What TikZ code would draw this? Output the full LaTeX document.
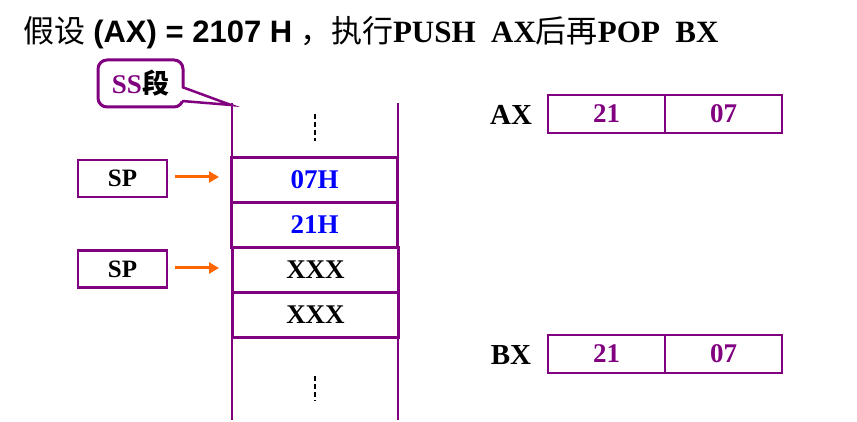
\documentclass[tikz,border=0pt]{standalone}
\usepackage{fontspec}
\setmainfont{Liberation Serif}
\newfontfamily\cjk{Noto Sans CJK SC}
\newfontfamily\ar{Liberation Sans}
\usetikzlibrary{arrows.meta}
\definecolor{pur}{RGB}{128,0,128}
\definecolor{org}{RGB}{255,102,0}
\begin{document}
\begin{tikzpicture}[x=1pt,y=-1pt,
  cell/.style={draw=pur,line width=2.2pt,minimum width=166pt,minimum height=45pt,inner sep=0pt,font=\bfseries\fontsize{27}{27}\selectfont},
  sp/.style={draw=pur,line width=2.2pt,minimum width=89pt,minimum height=37pt,inner sep=0pt,font=\bfseries\fontsize{25}{25}\selectfont},
  reg/.style={draw=pur,line width=2.2pt,minimum width=117pt,minimum height=38pt,inner sep=0pt,text=pur,font=\bfseries\fontsize{27}{27}\selectfont},
  lab/.style={font=\bfseries\fontsize{29}{29}\selectfont},
  arr/.style={org,line width=3pt,-{Triangle[length=10pt,width=11pt]}}]
\useasboundingbox (0,0) rectangle (857,422);
\node[anchor=west,font=\bfseries\fontsize{31}{31}\selectfont] (title) at (20,33)
  {{\cjk\mdseries 假设}\ {\ar (AX) = 2107 H}\ {\cjk\mdseries ，执行}PUSH\ \ AX{\cjk\mdseries 后再}POP\ \ BX};
% stack
\draw[pur,line width=2.2pt] (232,103) -- (232,420);
\draw[pur,line width=2.2pt] (398,103) -- (398,420);
\node[cell,text=blue] (c1) at (314.5,180) {07H};
\node[cell,text=blue] (c2) at (314.5,225) {21H};
\node[cell] (c3) at (315.5,270) {XXX};
\node[cell] (c4) at (315.5,315) {XXX};
\draw[line width=2.5pt,dash pattern=on 5pt off 3pt] (315,114) -- (315,141);
\draw[line width=2.5pt,dash pattern=on 5pt off 3pt] (315,376) -- (315,401);
% callout
\node[draw=pur,line width=3pt,rounded corners=9pt,minimum width=85pt,minimum height=47pt,font=\bfseries\fontsize{27}{27}\selectfont] (ss) at (140.5,83.5) {\textcolor{pur}{SS}{\cjk 段}};
\coordinate (tip) at (231,105);
\fill[white] (181,87) -- (tip) -- (181,101) -- cycle;
\draw[pur,line width=2.5pt] (182,87) -- (tip) -- (182,101);
% SP
\node[sp] (sp1) at (122.5,178.5) {SP};
\node[sp] (sp2) at (122.5,269) {SP};
\coordinate (a1) at (219,177);
\coordinate (a2) at (219,268);
\draw[arr] (175,177) -- (a1);
\draw[arr] (175,268) -- (a2);
% registers
\node[lab] (ax) at (511,115) {AX};
\node[reg] (ax1) at (606.5,114) {21};
\node[reg] (ax2) at (723.5,114) {07};
\node[lab] (bx) at (511,355) {BX};
\node[reg] (bx1) at (606.5,354) {21};
\node[reg] (bx2) at (723.5,354) {07};
\end{tikzpicture}
\end{document}
